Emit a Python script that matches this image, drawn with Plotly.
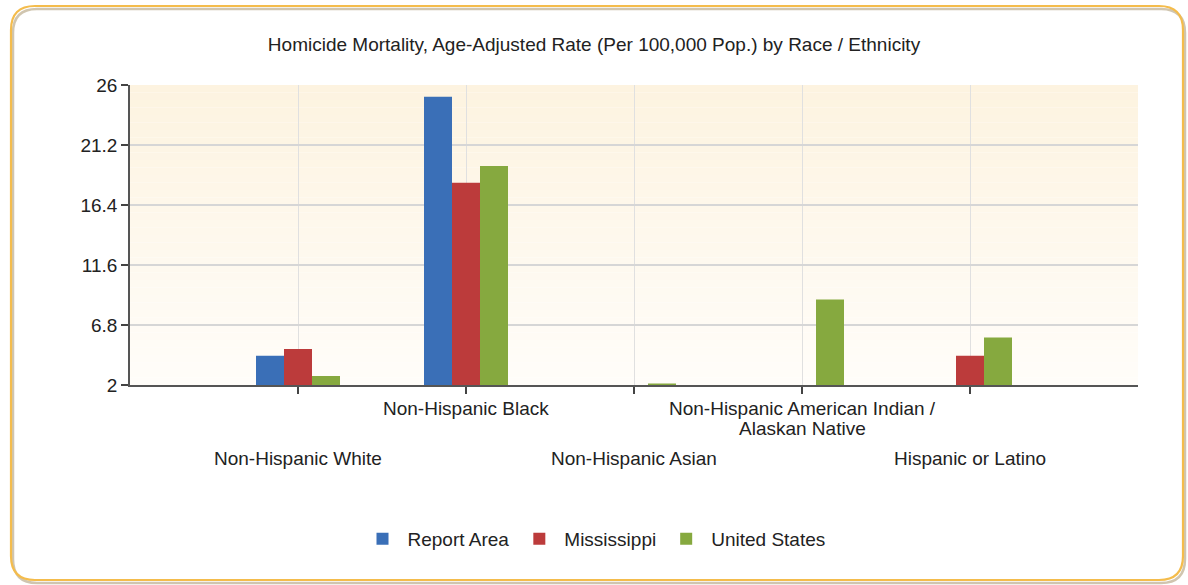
import plotly.graph_objects as go

# ---- data ----
categories = ["Non-Hispanic White", "Non-Hispanic Black", "Non-Hispanic Asian",
              "Non-Hispanic American Indian / Alaskan Native", "Hispanic or Latino"]
label_text = ["Non-Hispanic White", "Non-Hispanic Black", "Non-Hispanic Asian",
              "Non-Hispanic American Indian /<br>Alaskan Native", "Hispanic or Latino"]
label_row = [2, 1, 2, 1, 2]  # staggered label rows
report_area = [4.34, 25.06, None, None, None]
mississippi = [4.88, 18.18, None, None, 4.34]
united_states = [2.72, 19.52, 2.12, 8.85, 5.81]
series_names = ["Report Area", "Mississippi", "United States"]
series_colors = ["#3a6fb7", "#bc3b3b", "#86a93f"]
y_ticks = [2, 6.8, 11.6, 16.4, 21.2, 26]
title = "Homicide Mortality, Age-Adjusted Rate (Per 100,000 Pop.) by Race / Ethnicity"

FONT = "Liberation Sans"
TXT = "#222222"
W, H = 1188, 585
L, R, T, B = 130, 50, 85, 200
PW, PH = W - L - R, H - T - B


def px(x):
    return (x - L) / PW


def py(y):
    return (H - B - y) / PH


fig = go.Figure()
for name, vals, col in zip(series_names, [report_area, mississippi, united_states], series_colors):
    fig.add_trace(go.Bar(x=categories, y=vals, name=name, marker=dict(color=col, line=dict(width=0))))


def rounded_path(x0, y0, x1, y1, r):
    pts = [
        ("M", [(x0 + r, y0)]),
        ("L", [(x1 - r, y0)]),
        ("Q", [(x1, y0), (x1, y0 + r)]),
        ("L", [(x1, y1 - r)]),
        ("Q", [(x1, y1), (x1 - r, y1)]),
        ("L", [(x0 + r, y1)]),
        ("Q", [(x0, y1), (x0, y1 - r)]),
        ("L", [(x0, y0 + r)]),
        ("Q", [(x0, y0), (x0 + r, y0)]),
    ]
    s = ""
    for cmd, ps in pts:
        s += cmd + " ".join("%.5f,%.5f" % (px(a), py(b)) for a, b in ps) + " "
    return s + "Z"


shapes = []
# shadow + golden rounded border
shapes.append(dict(type="path", xref="paper", yref="paper",
                   path=rounded_path(13, 9, 1185, 583, 24),
                   line=dict(color="rgba(170,150,110,0.55)", width=2.5), layer="below"))
shapes.append(dict(type="path", xref="paper", yref="paper",
                   path=rounded_path(11, 6, 1183, 580, 24),
                   line=dict(color="#f4bc4c", width=2.2), layer="below"))

# gradient plot background (cream at top -> white at bottom)
n = 40
top_c = (253, 243, 224)
bot_c = (255, 253, 249)
for i in range(n):
    t = i / (n - 1)
    c = tuple(round(top_c[k] + (bot_c[k] - top_c[k]) * t) for k in range(3))
    shapes.append(dict(type="rect", xref="x domain", yref="y domain",
                       x0=0, x1=1, y0=1 - (i + 1) / n, y1=1 - i / n,
                       fillcolor="rgb(%d,%d,%d)" % c, line=dict(width=0), layer="below"))

annotations = []
for cat, txt, row in zip(categories, label_text, label_row):
    ycenter = 408 if row == 1 else 458
    for j, line in enumerate(txt.split("<br>")):
        annotations.append(dict(x=cat, xref="x", y=py(ycenter + 20 * j), yref="paper", text=line,
                                showarrow=False, xanchor="center", yanchor="middle",
                                font=dict(family=FONT, size=19, color=TXT)))

fig.update_layout(
    width=W, height=H,
    margin=dict(l=L, r=R, t=T, b=B, autoexpand=False),
    paper_bgcolor="white",
    plot_bgcolor="rgba(0,0,0,0)",
    barmode="group", bargap=0.5, bargroupgap=0,
    title=dict(text=title, x=0.5, xref="container", xanchor="center", y=1 - 44 / H, yanchor="middle",
               font=dict(family=FONT, size=19, color=TXT)),
    font=dict(family=FONT, size=19, color=TXT),
    showlegend=True,
    legend=dict(orientation="h", x=0.5, xanchor="center", xref="container",
                y=py(539), yanchor="middle", font=dict(family=FONT, size=19, color=TXT),
                bgcolor="rgba(0,0,0,0)", itemwidth=40, traceorder="normal"),
    shapes=shapes,
    annotations=annotations,
    xaxis=dict(type="category", categoryorder="array", categoryarray=categories,
               range=[-1, 5], showticklabels=False, ticks="outside", ticklen=7,
               tickcolor="#444444", tickwidth=1.5,
               showgrid=True, gridcolor="#e0e0e0", gridwidth=1,
               showline=True, linecolor="#555555", linewidth=1.5, zeroline=False),
    yaxis=dict(range=[2, 26], tickvals=y_ticks, ticktext=[("%g" % v) for v in y_ticks],
               ticks="outside", ticklen=7, tickcolor="#444444", tickwidth=1.5,
               showgrid=True, gridcolor="#d6d6d6", gridwidth=1.5,
               showline=True, linecolor="#555555", linewidth=1.5, zeroline=False,
               tickfont=dict(family=FONT, size=19, color=TXT)),
)

fig.write_html("out.html",
               config={"displayModeBar": False},
               post_script="document.body.style.margin='0';document.body.style.padding='0';"
                           "document.documentElement.style.overflow='hidden';")
